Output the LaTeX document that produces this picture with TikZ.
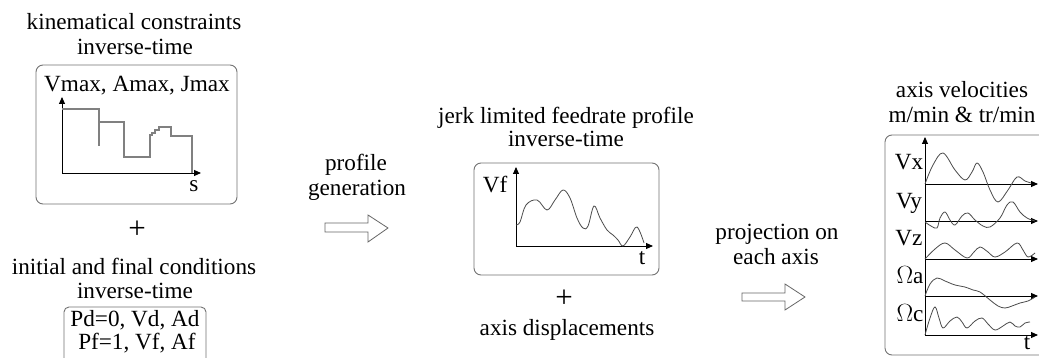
\documentclass[tikz,border=0pt]{standalone}
\usepackage{fontspec}
\setmainfont{Liberation Serif}
\usetikzlibrary{arrows.meta}

\tikzset{
  lbl/.style={inner sep=0pt, text height=0.7em, text depth=0.2em},
  plus/.style={inner sep=0pt, font=\fontsize{31}{31}\selectfont},
  panel/.style={draw=black!55, line width=0.9pt, rounded corners=7pt},
  axis/.style={-{Triangle[length=7pt,width=6pt]}, line width=0.9pt},
  curve/.style={black!70, line width=0.8pt},
  blockarrow/.style={draw=black!60, line width=0.8pt, fill=white}
}

\begin{document}
\begin{tikzpicture}[x=1pt, y=-1pt, font=\fontsize{23.2}{27}\selectfont]
        \useasboundingbox[fill=white] (0,0) rectangle (1039,358);

        % kinematical constraints
        \node[lbl] (kintitle) at (134,27) {kinematical constraints};
        \node[lbl] (kintime) at (135,52) {inverse-time};
        \draw[panel] (36,65) rectangle (237,204);
        \node[lbl] (kinlim) at (137,89) {Vmax, Amax, Jmax};
        \coordinate (ko) at (62,173);
        \draw[axis] (ko) -- (62,97);
        \draw[axis] (ko) -- (201,173);
        \node[lbl] (kins) at (194,189) {s};
        \draw[black!50, line width=1.3pt] (62,109) -- (99,109) -- (99,146);
        \draw[black!50, line width=1.3pt] (99,122) -- (124,122) -- (124,157) -- (150,157)
              -- (150,135) -- (152,135) -- (152,133) -- (155,133) -- (155,130) -- (159,130)
              -- (159,127) -- (171,127) -- (171,136) -- (192,136) -- (192,173);

        \node[plus] (plusa) at (137,230) {+};

        % initial and final conditions
        \node[lbl] (condtitle) at (134,272) {initial and final conditions};
        \node[lbl] (condtime) at (135,296) {inverse-time};
        \draw[panel, rounded corners=5pt] (64,307) rectangle (206,375);
        \node[lbl] (condd) at (135,324) {Pd=0, Vd, Ad};
        \node[lbl] (condf) at (137,347) {Pf=1, Vf, Af};

        % profile generation
        \node[lbl] (gena) at (356,168) {profile};
        \node[lbl] (genb) at (357,193) {generation};
        \draw[blockarrow] (325,223) -- (368,223) -- (368,215) -- (388,228)
              -- (368,242) -- (368,232) -- (325,232) -- cycle;

        % feedrate profile
        \node[lbl] (feedtitle) at (566,121) {jerk limited feedrate profile};
        \node[lbl] (feedtime) at (566,144) {inverse-time};
        \draw[panel] (474,163) rectangle (659,275);
        \coordinate (fo) at (516,246);
        \draw[axis] (fo) -- (516,167);
        \draw[axis] (fo) -- (653,246);
        \node[lbl] (feedv) at (495,190) {Vf};
        \node[lbl] (feedt) at (642,262) {t};
        \draw[curve] plot[smooth, tension=0.6] coordinates {(516,225) (520,222) (526,205)
              (537,200) (547,210) (555,200) (563,190) (570,198) (577,218) (583,228)
              (588,226) (594,206) (600,218) (607,230) (613,235) (618,240) (623,246)
              (630,237) (637,227) (644,243)};

        \node[plus] (plusb) at (564,299) {+};
        \node[lbl] (disp) at (567,333) {axis displacements};

        % projection
        \node[lbl] (proja) at (777,237) {projection on};
        \node[lbl] (projb) at (776,262) {each axis};
        \draw[blockarrow] (742,293) -- (785,293) -- (785,284) -- (805,297)
              -- (785,310) -- (785,301) -- (742,301) -- cycle;

        % axis velocities
        \node[lbl] (veltitle) at (962,95) {axis velocities};
        \node[lbl] (velunit) at (962,120) {m/min \& tr/min};
        \draw[panel] (885,135) rectangle (1060,355);
        \draw[axis] (925,335) -- (925,137);
        \foreach \yy in {184,221,259,296,335}
            \draw[axis] (925,\yy) -- (1038,\yy);
        \node[lbl] (velx) at (909,167) {Vx};
        \node[lbl] (vely) at (909,206) {Vy};
        \node[lbl] (velz) at (909,243) {Vz};
        \node[lbl] (vela) at (910,281) {$\Omega$a};
        \node[lbl] (velc) at (910,319) {$\Omega$c};
        \node[lbl] (velt) at (1027,347) {t};
        \draw[curve] plot[smooth, tension=0.6] coordinates {(925,184) (933,165) (943,153)
              (955,170) (965,180) (972,172) (977,163) (983,172) (990,190) (998,202)
              (1008,190) (1017,177) (1025,181) (1031,183)};
        \draw[curve] plot[smooth, tension=0.6] coordinates {(925,222) (931,226) (937,228)
              (940,218) (945,212) (950,220) (955,225) (962,216) (968,213) (975,220)
              (983,226) (990,227) (1000,218) (1007,205) (1013,202) (1020,212)
              (1027,218) (1035,221)};
        \draw[curve] plot[smooth, tension=0.6] coordinates {(925,259) (935,249) (945,243)
              (955,250) (967,258) (974,252) (980,247) (988,252) (995,257) (1005,252)
              (1017,243) (1023,250) (1028,257) (1035,253)};
        \draw[curve] plot[smooth, tension=0.6] coordinates {(925,296) (930,284) (937,278)
              (945,281) (955,285) (965,287) (973,290) (980,292) (990,300) (998,306)
              (1005,308) (1012,306) (1020,303) (1028,301) (1035,297)};
        \draw[curve] plot[smooth, tension=0.6] coordinates {(925,335) (930,318) (935,307)
              (939,318) (943,328) (950,321) (957,317) (962,322) (967,328) (975,321)
              (982,318) (988,324) (995,330) (1003,326) (1010,322) (1015,326)
              (1020,327) (1025,323) (1030,322)};
\end{tikzpicture}
\end{document}
